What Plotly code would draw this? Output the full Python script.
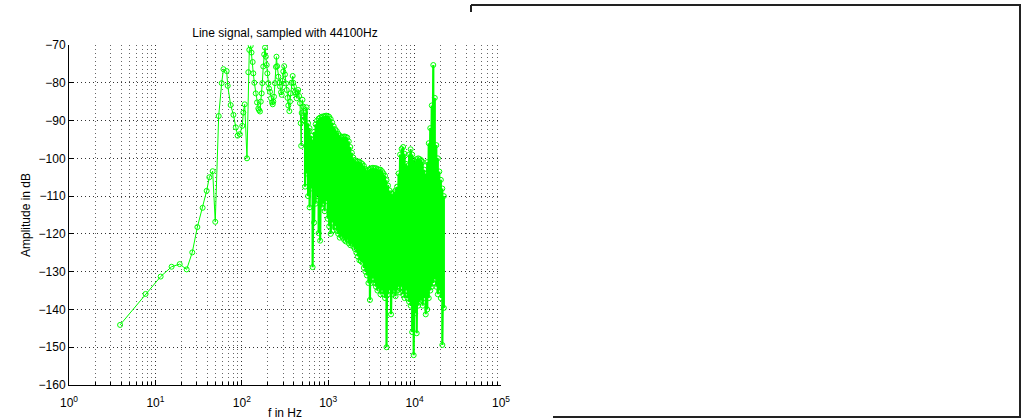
import plotly.graph_objects as go

# ---------------- data ----------------
# low-frequency bins (Hz) and amplitude (dB)
low_f = [3.9, 7.7, 11.5, 15.4, 19.1, 23.0, 26.7, 30.6, 35.2, 39.2, 42.1, 46.0, 49.3,
         54.0, 58.5, 61.3, 66.8, 68.7, 74.3, 80.0, 85.3, 89.5, 94.9, 101.3, 104.1, 108.0, 114.8]
low_db = [-144.1, -135.9, -131.3, -128.7, -128.0, -129.4, -124.9, -118.2, -113.1, -108.6, -105.0, -103.4, -116.8,
          -88.8, -80.1, -76.4, -76.9, -80.8, -85.9, -88.5, -91.8, -94.0, -93.6, -91.4, -87.9, -85.7, -100.0]

# mid band (sparse peaks)
mid_f = [118.9, 122.1, 126.8, 129.5, 133.6, 135.9, 139.6, 144.9, 150.0, 155.3, 158.2, 162.4, 165.8,
         170.0, 172.7, 177.2, 181.6, 185.6, 189.6, 194.2, 197.4, 202.7, 206.5, 212.0, 217.8, 223.7,
         227.8, 231.6, 236.0, 242.0, 248.6, 251.9, 256.7, 264.7, 271.4, 276.9, 284.4, 289.7, 295.9,
         302.2, 309.5, 316.0, 324.8, 331.0, 338.2, 345.5, 355.0, 361.2, 367.6, 375.0, 388.0, 394.0,
         401.7, 412.5, 423.6, 431.5, 440.5, 449.6, 460.4, 471.7, 480.3, 486.6, 493.2, 503.9, 514.8, 524.4]
mid_db = [-77.2, -71.3, -70.2, -72.0, -74.5, -77.5, -80.0, -82.8, -85.2, -86.8, -87.2, -87.6, -85.0,
          -82.8, -80.1, -75.7, -72.5, -70.7, -73.1, -75.3, -77.5, -80.1, -81.5, -82.4, -84.1, -85.2,
          -85.7, -85.0, -83.7, -80.1, -75.8, -73.1, -75.6, -78.4, -80.0, -81.0, -82.5, -83.2, -79.5,
          -77.0, -75.6, -77.8, -80.2, -81.9, -84.0, -86.0, -87.5, -85.0, -82.8, -80.0, -78.2, -80.0,
          -81.0, -82.5, -83.0, -84.1, -82.5, -81.9, -83.5, -85.4, -90.7, -96.7, -88.0, -84.5, -86.3, -90.0]

# dense band: frequency, local maximum and local minimum (dB)
dense_f = [540, 562, 585, 609, 634, 660, 687, 715, 744, 775, 806, 839, 874, 910, 947, 986, 1026, 1068,
           1112, 1158, 1205, 1255, 1306, 1360, 1416, 1474, 1534, 1597, 1663, 1731, 1802, 1876, 1953,
           2033, 2117, 2203, 2294, 2388, 2486, 2588, 2694, 2805, 2920, 3040, 3164, 3294, 3429, 3570,
           3717, 3869, 4028, 4193, 4365, 4544, 4731, 4925, 5127, 5337, 5556, 5784, 6022, 6269, 6526,
           6794, 7072, 7363, 7665, 7979, 8307, 8648, 9002, 9372, 9756, 10157, 10573, 11007, 11459,
           11929, 12418, 12928, 13458, 14010, 14585, 15183, 15806, 16454, 17129, 17831, 18562, 19323,
           20116, 20941, 21800]
dense_hi = [-88.0, -86.5, -90.7, -92.0, -94.0, -95.0, -93.0, -91.0, -90.0, -89.5, -89.2, -89.0, -88.9,
            -88.8, -88.7, -88.8, -89.0, -89.6, -90.5, -91.5, -92.3, -92.8, -93.5, -94.0, -94.5, -94.3,
            -94.2, -94.3, -94.5, -95.5, -97.0, -98.5, -99.8, -100.5, -101.0, -100.8, -100.9, -101.2,
            -101.5, -102.0, -102.8, -103.2, -103.0, -102.8, -102.6, -102.5, -102.6, -102.6, -102.8,
            -103.0, -103.0, -103.4, -104.0, -104.6, -105.8, -107.2, -108.5, -109.3, -109.5, -109.0,
            -108.5, -107.5, -104.0, -99.0, -97.5, -97.0, -98.8, -101.5, -102.0, -99.0, -97.6, -99.0,
            -100.4, -101.0, -100.2, -100.0, -100.2, -100.5, -101.0, -103.0, -104.0, -101.0, -96.0,
            -92.0, -86.0, -75.3, -84.0, -96.5, -100.0, -103.5, -105.7, -108.0, -110.0]
dense_lo = [-107.5, -104.0, -110.0, -113.0, -108.0, -128.8, -117.0, -112.0, -110.0, -119.8, -121.8,
            -113.0, -112.0, -114.0, -111.3, -116.0, -118.0, -120.0, -117.0, -119.0, -118.0, -119.2,
            -120.0, -121.0, -120.5, -121.0, -121.6, -122.0, -121.5, -122.5, -123.0, -122.6, -123.4,
            -124.0, -125.0, -126.0, -127.0, -127.2, -127.6, -129.0, -130.0, -131.0, -133.0, -137.5,
            -133.0, -131.8, -133.0, -134.0, -135.0, -134.5, -136.0, -135.0, -136.0, -137.0, -150.0,
            -136.0, -135.0, -141.3, -136.0, -135.0, -136.5, -135.0, -134.0, -135.5, -134.0, -136.0,
            -137.0, -135.0, -137.0, -138.0, -139.0, -146.0, -152.1, -141.0, -146.3, -139.0, -138.0,
            -137.5, -139.0, -137.0, -141.3, -140.0, -137.0, -135.0, -134.0, -133.0, -132.0, -134.0,
            -136.0, -135.0, -137.0, -149.4, -139.6]

x_tick_vals = [1, 10, 100, 1000, 10000, 100000]
x_tick_text = ["10<sup>0</sup>", "10<sup>1</sup>", "10<sup>2</sup>", "10<sup>3</sup>",
               "10<sup>4</sup>", "10<sup>5</sup>"]
y_tick_vals = [-160, -150, -140, -130, -120, -110, -100, -90, -80, -70]

# ---------------- assemble series ----------------
xs = list(low_f) + list(mid_f)
ys = list(low_db) + list(mid_db)
dx, dy = [xs[-1]], [ys[-1]]
for f, hi, lo in zip(dense_f, dense_hi, dense_lo):
    dx += [f, f]
    dy += [hi, lo]

minor_vals = [d * 10 ** e for e in range(5) for d in range(2, 10)]

GREEN = "#00ff00"
FONT = "Liberation Sans, Arial, Helvetica, sans-serif"
marker = dict(symbol="circle-open", size=5, color=GREEN, line=dict(width=1, color=GREEN))

fig = go.Figure()
fig.add_trace(go.Scatter(
    x=xs, y=ys, mode="lines+markers",
    line=dict(color=GREEN, width=1), marker=marker,
    showlegend=False, hoverinfo="skip"))
fig.add_trace(go.Scatter(
    x=dx, y=dy, mode="lines+markers",
    line=dict(color=GREEN, width=2.2), marker=marker,
    showlegend=False, hoverinfo="skip"))

W, H = 1027, 420
L, R, T, B = 69, 526, 45, 35
pw, ph = W - L - R, H - T - B

def px(x):
    return (x - L) / pw

def py(y):
    return (H - B - y) / ph

grid_dash = "1px,3px"
fig.update_layout(
    width=W, height=H,
    margin=dict(l=L, r=R, t=T, b=B, pad=0, autoexpand=False),
    paper_bgcolor="white", plot_bgcolor="white",
    font=dict(family=FONT, size=12, color="black"),
    title=dict(text="Line signal, sampled with 44100Hz", x=(L + pw / 2) / W, xanchor="center",
               y=1 - 33 / H, yanchor="middle", font=dict(size=12, family=FONT)),
    xaxis=dict(type="log", range=[0, 5], tickvals=x_tick_vals, ticktext=x_tick_text,
               ticks="inside", ticklen=5, tickcolor="black", tickwidth=1,
               showline=True, linecolor="black", linewidth=1, mirror=False,
               showgrid=True, gridcolor="#333", griddash=grid_dash, gridwidth=1,
               zeroline=False, automargin=False, ticklabelstandoff=7,
               minor=dict(tickvals=minor_vals, ticks="inside", ticklen=3, tickcolor="black",
                          showgrid=True, gridcolor="#666", griddash=grid_dash, gridwidth=1),
               title=dict(text="f in Hz", standoff=8, font=dict(size=12)),
               tickfont=dict(size=12)),
    yaxis=dict(range=[-160, -70], tickvals=y_tick_vals,
               ticks="inside", ticklen=5, tickcolor="black", tickwidth=1,
               showline=True, linecolor="black", linewidth=1, mirror=False,
               showgrid=True, gridcolor="#333", griddash=grid_dash, gridwidth=1,
               zeroline=False, automargin=False,
               title=dict(text="Amplitude in dB", standoff=5, font=dict(size=12)),
               tickfont=dict(size=12)),
)

# empty frame of a second (unused) axes region on the right
box = dict(type="line", xref="paper", yref="paper", line=dict(color="#222", width=2))
fig.add_shape(**box, x0=px(471), y0=py(5), x1=px(1021), y1=py(5))
fig.add_shape(**box, x0=px(471), y0=py(5), x1=px(471), y1=py(12))
fig.add_shape(**box, x0=px(1020), y0=py(5), x1=px(1020), y1=py(417))
fig.add_shape(**box, x0=px(553), y0=py(417), x1=px(1021), y1=py(417))

fig.write_html(
    "out.html",
    config={"displayModeBar": False},
    post_script="document.body.style.margin='0';document.body.style.overflow='hidden';",
)
